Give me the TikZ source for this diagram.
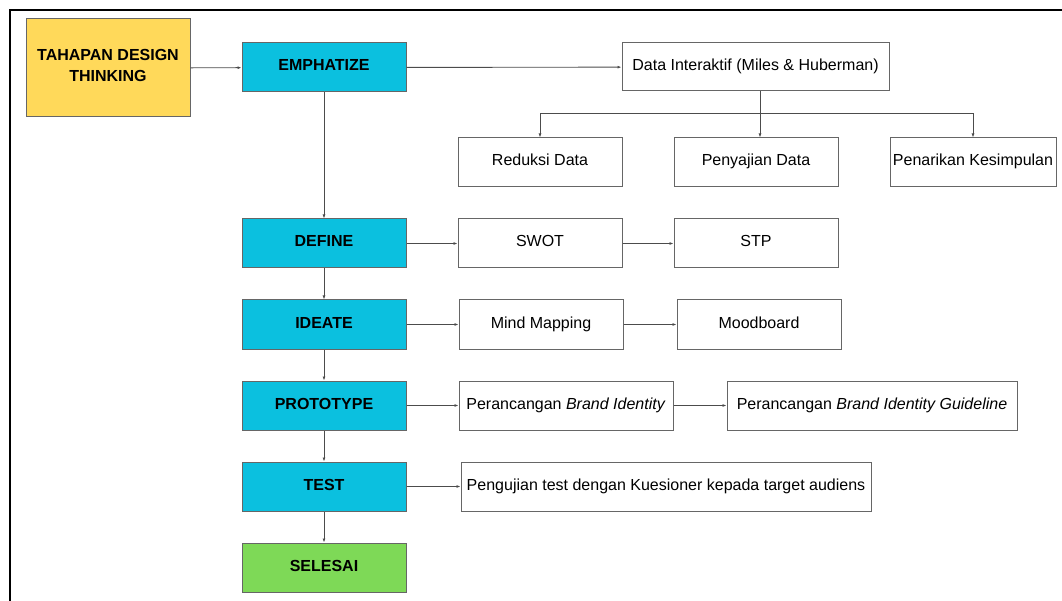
\documentclass[tikz,border=0pt]{standalone}
\usepackage{fontspec}
\setmainfont{Liberation Sans}
\usetikzlibrary{arrows.meta}
\definecolor{tahapyellow}{HTML}{FFD95A}
\definecolor{stepcyan}{HTML}{0BC0DF}
\definecolor{donegreen}{HTML}{7ED957}
\definecolor{edgegray}{HTML}{666666}
\begin{document}
\begin{tikzpicture}[x=1pt, y=-1pt,
    box/.style={draw=edgegray, line width=1pt, minimum height=49pt, inner sep=0pt},
    startbox/.style={box, fill=tahapyellow, minimum width=164pt, font=\bfseries\fontsize{16}{21}\selectfont, align=center},
    phase/.style={box, fill=stepcyan, minimum width=164pt, text height=11pt, text depth=4pt, font=\bfseries\fontsize{16}{19}\selectfont},
    result/.style={box, fill=white, text height=11pt, text depth=4pt, font=\fontsize{16}{19}\selectfont},
    link/.style={-{Latex[length=4pt,width=3pt]}, draw=black!70, line width=0.9pt}]
    \useasboundingbox (0,0) rectangle (1062,601);
    \draw[line width=2pt] (10,601) -- (10,10) -- (1062,10);
    \node [startbox, minimum height=98pt] (tahap) at (108,68) {TAHAPAN DESIGN\\THINKING\\[-15pt]};
    \node [phase] (emph) at (324,67.5) {EMPHATIZE};
    \node [phase] (define) at (324,243.5) {DEFINE};
    \node [phase] (ideate) at (324,324.5) {IDEATE};
    \node [phase] (proto) at (324,405.5) {PROTOTYPE};
    \node [phase] (test) at (324,486.5) {TEST};
    \node [phase, fill=donegreen] (selesai) at (324,567.5) {SELESAI};
    \node [result, minimum width=267pt, minimum height=48pt] (data) at (755.5,67) {Data Interaktif (Miles \& Huberman)};
    \node [result, minimum width=164pt] (reduksi) at (540,162.5) {Reduksi Data};
    \node [result, minimum width=164pt] (sajian) at (756,162.5) {Penyajian Data};
    \node [result, minimum width=166pt] (tarik) at (973,162.5) {Penarikan Kesimpulan};
    \node [result, minimum width=164pt] (swot) at (540,243.5) {SWOT};
    \node [result, minimum width=164pt] (stp) at (756,243.5) {STP};
    \node [result, minimum width=164pt] (mind) at (541,324.5) {Mind Mapping};
    \node [result, minimum width=164pt] (mood) at (759,324.5) {Moodboard};
    \node [result, minimum width=214pt] (brand) at (566,405.5) {Perancangan \textit{Brand Identity}};
    \node [result, minimum width=290pt] (guide) at (872,405.5) {Perancangan \textit{Brand Identity Guideline}};
    \node [result, minimum width=410pt] (uji) at (666,486.5) {Pengujian test dengan Kuesioner kepada target audiens};
    \coordinate (split) at (760,113);
    % alur utama
    \draw [link] (tahap) -- (emph);
    \draw [link] (emph) -- (define);
    \draw [link] (define) -- (ideate);
    \draw [link] (ideate) -- (proto);
    \draw [link] (proto) -- (test);
    \draw [link] (test) -- (selesai);
    % cabang ke kanan
    \draw [link] (emph) -- (data);
    \draw [link] (data.south -| split) -- (sajian.north -| split);
    \draw [link] (split) -| (reduksi.north);
    \draw [link] (split) -| (tarik.north);
    \draw [link] (define) -- (swot);
    \draw [link] (swot) -- (stp);
    \draw [link] (ideate) -- (mind);
    \draw [link] (mind) -- (mood);
    \draw [link] (proto) -- (brand);
    \draw [link] (brand) -- (guide);
    \draw [link] (test) -- (uji);
\end{tikzpicture}
\end{document}
